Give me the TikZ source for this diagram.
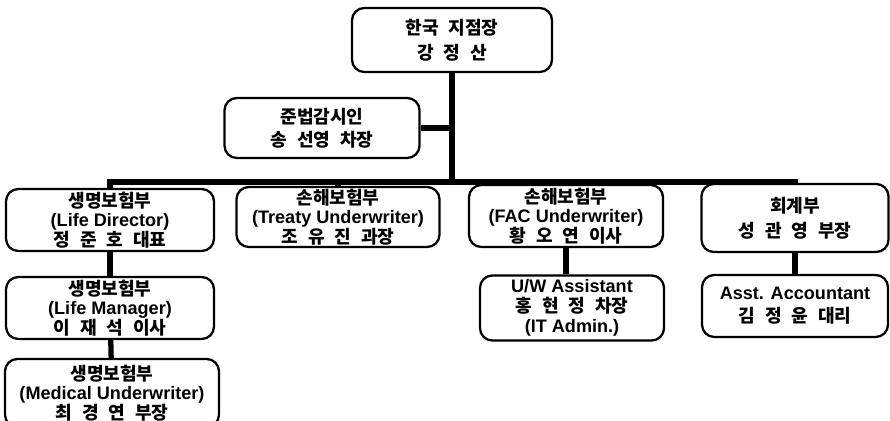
\documentclass[tikz,border=0pt]{standalone}
\usepackage{fontspec}
\setmainfont{Liberation Sans}
\newfontfamily\kr{Noto Sans CJK KR}
\usetikzlibrary{positioning}

\newcommand{\ko}[1]{{\kr\bfseries\spaceskip=0.55em #1}}

\begin{document}
\begin{tikzpicture}[
        x=0.02cm, y=-0.02cm,
        every node/.style={align=center, font=\fontsize{10.3}{11.2}\selectfont\bfseries},
        unit/.style = {draw,
                       line width=1.3pt,
                       rounded corners=7pt,
                       inner sep=1pt},
        link/.style = {line width=3pt}
        ]
        \useasboundingbox (0,0) rectangle (890,421);
        % head office and compliance
        \node[unit, minimum width=200*0.02cm, minimum height=64*0.02cm] (Head) at (452,40) {\ko{한국 지점장}\\[3pt]\ko{강 정 산}};
        \node[unit, minimum width=195*0.02cm, minimum height=60*0.02cm] (Comp) at (322,128) {\ko{준법감시인}\\[2pt]\ko{송 선영 차장}};
        % second row
        \node[unit, minimum width=208*0.02cm, minimum height=62*0.02cm] (LifeDir) at (110,220) {\ko{생명보험부}\\(Life Director)\\\ko{정 준 호 대표}};
        \node[unit, minimum width=203*0.02cm, minimum height=60*0.02cm] (Treaty) at (338,217) {\ko{손해보험부}\\(Treaty Underwriter)\\\ko{조 유 진 과장}};
        \node[unit, minimum width=194*0.02cm, minimum height=62*0.02cm] (FAC) at (566,216) {\ko{손해보험부}\\(FAC Underwriter)\\\ko{황 오 연 이사}};
        \node[unit, minimum width=187*0.02cm, minimum height=68*0.02cm] (Acct) at (795,218) {\ko{회계부}\\[3pt]\ko{성 관 영 부장}};
        % third row
        \node[unit, minimum width=208*0.02cm, minimum height=62*0.02cm] (LifeMgr) at (110,308) {\ko{생명보험부}\\(Life Manager)\\\ko{이 재 석 이사}};
        \node[unit, minimum width=184*0.02cm, minimum height=65*0.02cm] (UWAsst) at (572,308) {U/W Assistant\\\ko{홍 현 정 차장}\\(IT Admin.)};
        \node[unit, minimum width=186*0.02cm, minimum height=62*0.02cm] (AcctAsst) at (795,306) {Asst. Accountant\\[2pt]\ko{김 정 윤 대리}};
        \node[unit, minimum width=214*0.02cm, minimum height=68*0.02cm] (Medical) at (112,393) {\ko{생명보험부}\\(Medical Underwriter)\\\ko{최 경 연 부장}};
        % connectors
        \coordinate (Bus) at (452,182);
        \draw[link] (Head) -- (Bus);
        \draw[link] (Comp.east) -- (Comp.east -| Bus);
        \draw[link] (LifeDir.north) |- (Bus) -| (Acct.north);
        \draw[link] (Treaty.north) -- (Treaty.north |- Bus);
        \draw[link] (FAC.north) -- (FAC.north |- Bus);
        \draw[link] (LifeDir) -- (LifeMgr);
        \draw[link] (LifeMgr) -- (Medical);
        \draw[link] (FAC.south) -- (UWAsst.north -| FAC.south);
        \draw[link] (Acct) -- (AcctAsst);
    \end{tikzpicture}
\end{document}
